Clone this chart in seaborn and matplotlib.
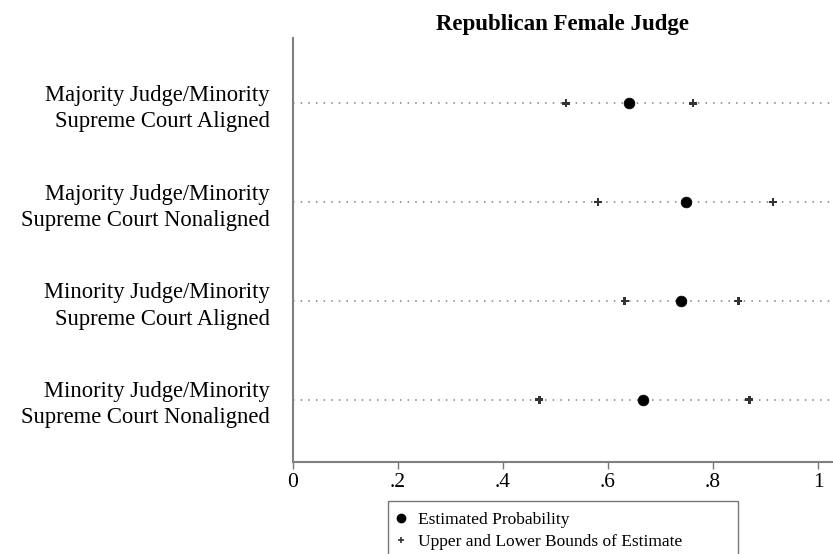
import matplotlib
matplotlib.use("Agg")
import matplotlib.pyplot as plt
import seaborn as sns
import pandas as pd
from matplotlib.lines import Line2D

categories = [
    "Majority Judge/Minority\nSupreme Court Aligned",
    "Majority Judge/Minority\nSupreme Court Nonaligned",
    "Minority Judge/Minority\nSupreme Court Aligned",
    "Minority Judge/Minority\nSupreme Court Nonaligned",
]
estimate = [0.64, 0.749, 0.739, 0.667]
lower = [0.52, 0.581, 0.632, 0.469]
upper = [0.762, 0.914, 0.848, 0.869]
x_ticks = [0, 0.2, 0.4, 0.6, 0.8, 1.0]
x_tick_labels = ["0", ".2", ".4", ".6", ".8", "1"]

sns.set_theme(style="white")
plt.rcParams["font.family"] = ["Liberation Serif", "DejaVu Serif"]
plt.rcParams["text.color"] = "black"
plt.rcParams["xtick.color"] = "black"
plt.rcParams["ytick.color"] = "black"

ypos = list(range(1, len(categories) + 1))
est_df = pd.DataFrame({"y": ypos, "x": estimate})
bnd_df = pd.DataFrame({"y": ypos * 2, "x": lower + upper})

fig = plt.figure(figsize=(8.33, 5.54), dpi=100)
ax = fig.add_axes([293 / 833, 1 - 462 / 554, 1 - 293 / 833, (462 - 38) / 554])

xmax = (833 - 293) / 525
for y in ypos:
    ax.plot([0, xmax], [y, y], linestyle=(0, (1, 4)), color="#808080",
            linewidth=1.1, zorder=1)

sns.scatterplot(data=bnd_df, x="x", y="y", marker="P", s=32, color="#333333",
                edgecolor="none", linewidth=0, ax=ax, zorder=3, legend=False)
sns.scatterplot(data=est_df, x="x", y="y", marker="o", s=60, color="black",
                edgecolor="black", linewidth=0.5, ax=ax, zorder=4, legend=False)

ax.set_xlim(0, xmax)
ax.set_ylim(4.63, 0.34)
ax.set_xticks(x_ticks)
ax.set_xticklabels(x_tick_labels, fontsize=15.5)
ax.set_yticks(ypos)
ax.set_yticklabels(categories, fontsize=16.3, linespacing=1.32, ha="right")
ax.tick_params(axis="y", length=0, pad=17)
ax.tick_params(axis="x", length=5, width=1, color="#777777", direction="out",
               pad=3, bottom=True)
ax.set_xlabel("")
ax.set_ylabel("")

for side in ["top", "right"]:
    ax.spines[side].set_visible(False)
for side in ["left", "bottom"]:
    ax.spines[side].set_color("#808080")
    ax.spines[side].set_linewidth(1.5)

ax.set_title("Republican Female Judge", fontsize=16.5, fontweight="bold",
             color="black", pad=6)

handles = [
    Line2D([], [], marker="o", color="black", linestyle="none", markersize=6),
    Line2D([], [], marker="+", color="#333333", linestyle="none", markersize=5,
           markeredgewidth=1.2),
]
labels = ["Estimated Probability", "Upper and Lower Bounds of Estimate"]
leg = fig.legend(handles, labels, loc="upper left",
                 bbox_to_anchor=(388 / 833, 1 - 501 / 554, 350 / 833, 0.0),
                 mode="expand",
                 fontsize=12.5, frameon=True, fancybox=False, borderaxespad=0,
                 handlelength=0.2, handletextpad=0.85, borderpad=0.65,
                 labelspacing=0.3)
leg.get_frame().set_edgecolor("#555555")
leg.get_frame().set_linewidth(1.0)

fig.savefig("out.png", dpi=100)
